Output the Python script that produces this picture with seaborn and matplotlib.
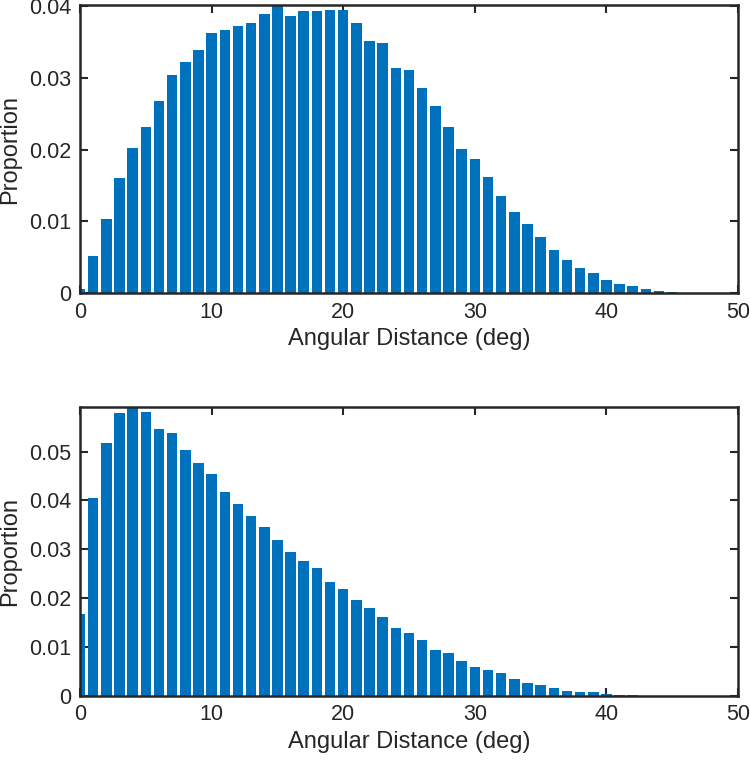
import numpy as np
import pandas as pd
import matplotlib
matplotlib.use('Agg')
import matplotlib.pyplot as plt
import matplotlib.ticker as mticker
import seaborn as sns

# bin centres (deg)
centers = list(range(0, 50))

# top panel proportions
top_vals = [0.0006, 0.0052, 0.0103, 0.0160, 0.0202, 0.0232, 0.0268, 0.0303, 0.0322, 0.0338,
            0.0362, 0.0366, 0.0372, 0.0376, 0.0388, 0.0401, 0.0386, 0.0393, 0.0393, 0.0394,
            0.0394, 0.0376, 0.0351, 0.0348, 0.0313, 0.0310, 0.0286, 0.0261, 0.0231, 0.0201,
            0.0187, 0.0162, 0.0136, 0.0113, 0.0096, 0.0079, 0.0060, 0.0046, 0.0035, 0.0028,
            0.0019, 0.0013, 0.0010, 0.00055, 0.0003, 0.00014, 0.00004, 0.0, 0.0, 0.0]

# bottom panel proportions
bot_vals = [0.0167, 0.0404, 0.0518, 0.0579, 0.0591, 0.0581, 0.0546, 0.0538, 0.0503, 0.0477,
            0.0454, 0.0417, 0.0392, 0.0368, 0.0346, 0.0318, 0.0294, 0.0275, 0.0261, 0.0232,
            0.0219, 0.0197, 0.0179, 0.0161, 0.0139, 0.0128, 0.0115, 0.0094, 0.0087, 0.0071,
            0.0058, 0.0053, 0.0046, 0.0034, 0.0027, 0.0021, 0.0016, 0.0009, 0.00075, 0.00068,
            0.00034, 0.0002, 0.00005, 0.00002, 0.0, 0.0, 0.0, 0.0, 0.0, 0.0]

sns.set_style('white')
plt.rcParams['font.family'] = ['Liberation Sans', 'DejaVu Sans']

dark = '#262626'
blue = '#0072BD'

fig = plt.figure(figsize=(7.5, 7.64), dpi=100)
ax1 = fig.add_axes([0.1067, 0.616, 0.8773, 0.3775])
ax2 = fig.add_axes([0.1067, 0.0894, 0.8773, 0.3776])

panels = [(ax1, top_vals, [0, 0.01, 0.02, 0.03, 0.04]),
          (ax2, bot_vals, [0, 0.01, 0.02, 0.03, 0.04, 0.05])]

for ax, vals, yt in panels:
    df = pd.DataFrame({'deg': centers, 'prop': vals})
    sns.barplot(data=df, x='deg', y='prop', native_scale=True, width=0.8,
                color=blue, saturation=1, errorbar=None, linewidth=0, ax=ax)
    ax.set_xlim(0, 50)
    ax.set_ylim(0, max(vals))
    ax.set_xticks([0, 10, 20, 30, 40, 50])
    ax.set_yticks(yt)
    ax.yaxis.set_major_formatter(mticker.FormatStrFormatter('%g'))
    ax.xaxis.set_major_formatter(mticker.FormatStrFormatter('%g'))
    for s in ax.spines.values():
        s.set_visible(True)
        s.set_color(dark)
        s.set_linewidth(1.8)
    ax.tick_params(direction='in', length=6, width=1.5, color=dark,
                   top=True, right=True, bottom=True, left=True,
                   labelsize=15.5, labelcolor=dark, pad=6)
    ax.set_xlabel('Angular Distance (deg)', fontsize=17, color=dark, labelpad=4)
    ax.set_ylabel('Proportion', fontsize=17, color=dark, labelpad=6)

fig.savefig('out.png', dpi=100)
